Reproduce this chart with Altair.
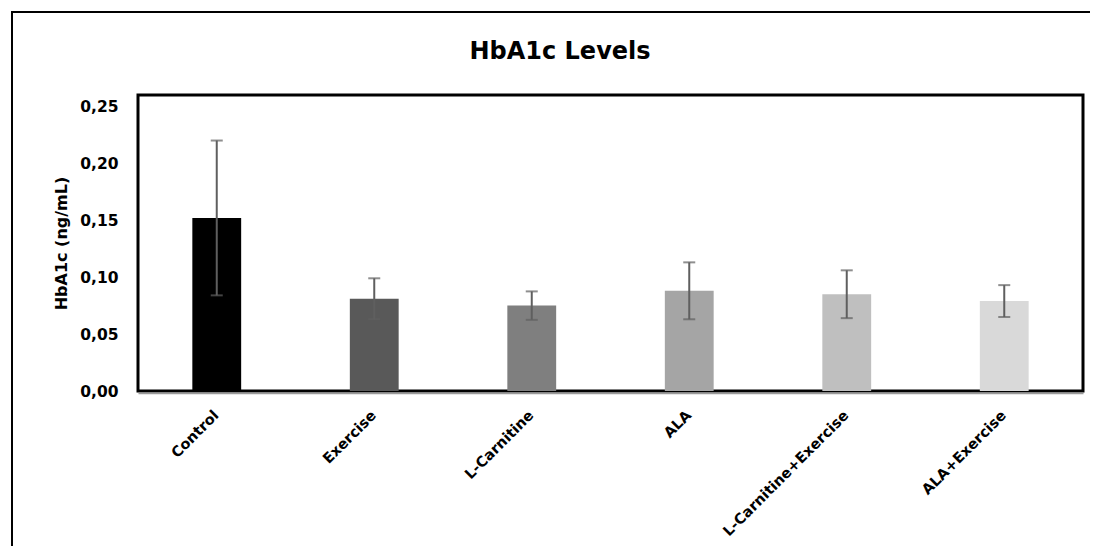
import altair as alt
import pandas as pd

groups = ["Control", "Exercise", "L-Carnitine", "ALA", "L-Carnitine+Exercise", "ALA+Exercise"]
means = [0.152, 0.081, 0.075, 0.088, 0.085, 0.079]
errs = [0.068, 0.018, 0.0125, 0.025, 0.021, 0.014]
colors = ["#000000", "#595959", "#7f7f7f", "#a5a5a5", "#bfbfbf", "#d9d9d9"]
title_text = ["HbA1c Levels"]

df = pd.DataFrame({
    "group": groups,
    "mean": means,
    "lo": [m - e for m, e in zip(means, errs)],
    "hi": [m + e for m, e in zip(means, errs)],
})

FONT = "DejaVu Sans"

x = alt.X(
    "group:N",
    sort=groups,
    scale=alt.Scale(paddingInner=0.69, paddingOuter=0.345),
    axis=alt.Axis(
        title=None, labelAngle=-45, labelAlign="right", labelBaseline="middle",
        labelFont=FONT, labelFontWeight="bold", labelFontSize=14.5, labelColor="black",
        labelPadding=20, labelLimit=400, ticks=False, domainColor="#9a9a9a",
        domainWidth=1.5, offset=2,
    ),
)

y = alt.Y(
    "mean:Q",
    scale=alt.Scale(domain=[0, 0.25]),
    axis=alt.Axis(
        title="HbA1c (ng/mL)", values=[0, 0.05, 0.10, 0.15, 0.20, 0.25],
        labelExpr="replace(format(datum.value, '.2f'), '.', ',')",
        labelFont=FONT, labelFontWeight="bold", labelFontSize=15.5, labelColor="black",
        labelPadding=20, ticks=False, grid=False, domain=False,
        titleFont=FONT, titleFontWeight="bold", titleFontSize=16, titleColor="black",
        titlePadding=10,
    ),
)

base = alt.Chart(df)

bars = base.mark_bar().encode(
    x=x, y=y,
    color=alt.Color("group:N", scale=alt.Scale(domain=groups, range=colors), legend=None),
)

err_rule = base.mark_rule(color="#5f5f5f", strokeWidth=2).encode(
    x=alt.X("group:N", sort=groups), y="lo:Q", y2="hi:Q"
)
cap_hi = base.mark_tick(color="#5f5f5f", size=12, thickness=2).encode(
    x=alt.X("group:N", sort=groups), y="hi:Q"
)
cap_lo = base.mark_tick(color="#5f5f5f", size=12, thickness=2).encode(
    x=alt.X("group:N", sort=groups), y="lo:Q"
)

dummy = alt.Chart(pd.DataFrame({"d": [0]}))
outer_left = dummy.mark_rule(color="black", strokeWidth=2).encode(
    x=alt.value(-126), y=alt.value(-83), y2=alt.value(470)
)
outer_top = dummy.mark_rule(color="black", strokeWidth=2).encode(
    x=alt.value(-127), x2=alt.value(1000), y=alt.value(-83)
)

title = alt.Chart(pd.DataFrame({"t": title_text})).mark_text(
    font=FONT, fontSize=24, fontWeight="bold", color="black",
    align="center", baseline="alphabetic",
).encode(text="t:N", x=alt.value(422), y=alt.value(-36))

chart = alt.layer(bars, err_rule, cap_hi, cap_lo, outer_left, outer_top, title).properties(
    width=945,
    height=296,
    autosize=alt.AutoSizeParams(type="none"),
    padding={"left": 130, "top": 87, "right": 7, "bottom": 155},
    background="white",
).configure_view(
    stroke="black", strokeWidth=3
)

chart.save("out.html", embed_options={"renderer": "svg", "actions": False})
